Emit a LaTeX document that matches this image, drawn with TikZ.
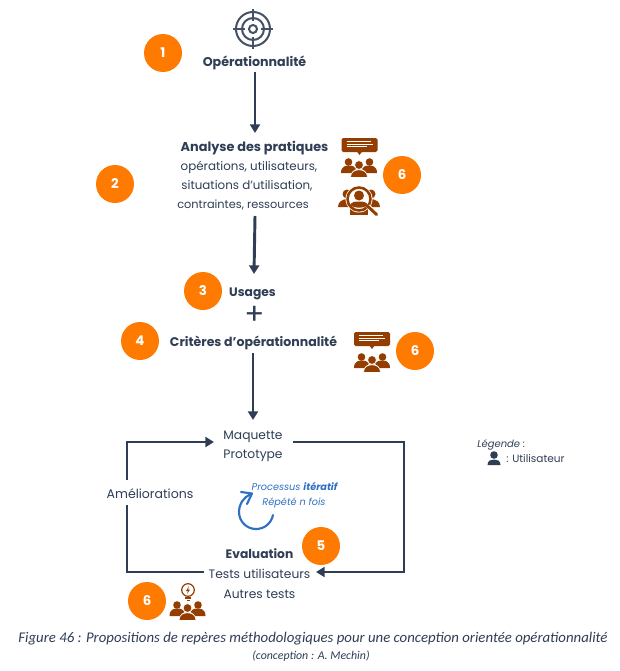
\documentclass[tikz,border=0pt]{standalone}
\usepackage{fontspec}
\setmainfont{Poppins}
\newfontfamily\capfont{Carlito}
\usetikzlibrary{arrows.meta}
\definecolor{ink}{HTML}{2F3E55}
\definecolor{orangeb}{HTML}{FF7A00}
\definecolor{brownb}{HTML}{943D00}
\definecolor{blueb}{HTML}{2F6FC4}
\tikzset{
 x=0.75pt,y=-0.75pt,
 badge/.style={circle,fill=orangeb,minimum size=28.5pt,inner sep=0pt,text=white,font=\fontsize{10}{12}\selectfont\bfseries},
 txt/.style={text=ink,inner sep=0pt,anchor=base,font=\fontsize{9.2}{14}\selectfont},
 stxt/.style={text=ink,inner sep=0pt,anchor=base,font=\fontsize{8.9}{14}\selectfont},
 btxt/.style={text=ink,inner sep=0pt,anchor=base,font=\fontsize{9.2}{14}\selectfont\bfseries},
 itxt/.style={text=blueb,inner sep=0pt,anchor=base,font=\fontsize{7.3}{11}\selectfont\itshape},
 legtxt/.style={inner sep=0pt,anchor=base west,text=ink},
 captxt/.style={inner sep=0pt,anchor=base,text=ink},
 flow/.style={draw=ink,line width=2.2pt,-{Triangle[length=6.5pt,width=7.5pt]}},
 plainline/.style={draw=ink,line width=2.2pt},
 people/.pic={
  \fill[pic actions] (-10.5,-4) circle (3.8);
  \fill[pic actions] (10.5,-4) circle (3.8);
  \fill[pic actions] (-18,7) .. controls (-18,0) and (-13,-0.5) .. (-10,-0.5) .. controls (-6,-0.5) and (-4,1) .. (-3,3) .. controls (-6,4) and (-7,6) .. (-7,7) -- cycle;
  \fill[pic actions] (18,7) .. controls (18,0) and (13,-0.5) .. (10,-0.5) .. controls (6,-0.5) and (4,1) .. (3,3) .. controls (6,4) and (7,6) .. (7,7) -- cycle;
  \fill[pic actions,draw=white,line width=0.5pt] (0,-1) circle (4.4);
  \fill[pic actions,draw=white,line width=0.5pt] (-8.5,11.5) .. controls (-8.5,5.5) and (-4,3.8) .. (0,3.8) .. controls (4,3.8) and (8.5,5.5) .. (8.5,11.5) -- cycle;
 },
 bubble/.pic={
  \fill[pic actions,rounded corners=1.2] (-18,-8) rectangle (18,6);
  \fill[pic actions] (-3,5) -- (3,5) -- (0,9) -- cycle;
  \draw[white,line width=0.5pt] (-13,-4.5) -- (11,-4.5) (-13,-2) -- (13,-2) (-13,0.5) -- (7,0.5);
 },
}
\begin{document}
\begin{tikzpicture}
\useasboundingbox[fill=white] (0,0) rectangle (620,671);
% target icon
\begin{scope}[draw=ink!90!white,line width=1.5pt]
 \draw (253,29) circle (17);
 \draw (253,29) circle (11);
 \draw (253,29) circle (4);
 \draw (253,9) -- (253,21) (253,37) -- (253,49) (233,29) -- (245,29) (261,29) -- (273,29);
\end{scope}
% texts
\node[btxt,font=\fontsize{9.5}{14}\selectfont\bfseries] (op) at (254.5,66) {Opérationnalité};
\node[btxt,font=\fontsize{9.65}{14}\selectfont\bfseries] (an) at (254.5,151) {Analyse des pratiques};
\node[stxt] (an2) at (249,170) {opérations, utilisateurs,};
\node[stxt] (an3) at (247,189) {situations d’utilisation,};
\node[stxt,font=\fontsize{8.5}{14}\selectfont] (an4) at (243,208) {contraintes, ressources};
\node[btxt] (us) at (252.5,296) {Usages};
\node[text=ink,inner sep=0pt,font=\fontsize{22}{22}\selectfont] (plus) at (254.5,315) {+};
\node[btxt,font=\fontsize{9.4}{14}\selectfont\bfseries] (cr) at (253.5,346) {Critères d’opérationnalité};
\node[txt] (ma) at (253,439) {Maquette};
\node[txt] (pr) at (253,458) {Prototype};
\node[txt,font=\fontsize{9.4}{14}\selectfont] (am) at (150,498.5) {Améliorations};
\node[btxt] (ev) at (259.5,558) {Evaluation};
\node[txt] (te) at (259.5,578) {Tests utilisateurs};
\node[txt] (au) at (259.5,598) {Autres tests};
\node[itxt] (it) at (294.5,490) {Processus \textbf{itératif}};
\node[itxt] (it2) at (294,505) {Répété n fois};
% badges
\node[badge] (b1) at (163,53) {1};
\node[badge] (b2) at (115,184) {2};
\node[badge] (b6a) at (402,175) {6};
\node[badge] (b3) at (203,291) {3};
\node[badge] (b4) at (140,341) {4};
\node[badge] (b6b) at (415,351) {6};
\node[badge] (b5) at (321,546) {5};
\node[badge] (b6c) at (147,601) {6};
% icons
\path[fill=brownb] (359.5,146) pic {bubble};
\path[fill=brownb] (359,166) pic {people};
\path[fill=brownb] (372,340) pic {bubble};
\path[fill=brownb] (372,361) pic {people};
\path[fill=brownb] (187.5,609) pic {people};
% magnifier people
\fill[brownb] (347,194) circle (4.5);
\fill[brownb] (371,194) circle (4.5);
\fill[brownb] (338,207) .. controls (338,202) and (342,199) .. (348,199) -- (350,207) -- cycle;
\fill[brownb] (380,207) .. controls (380,202) and (376,199) .. (370,199) -- (368,207) -- cycle;
\fill[brownb] (350,208) rectangle (368,214.5);
\fill[white] (359,199) circle (13.5);
\draw[brownb,line width=1.9pt] (359,199) circle (11.5);
\fill[brownb] (359,195.5) circle (5);
\fill[brownb] (350.5,205) .. controls (351,202) and (355,201.5) .. (359,201.5) .. controls (363,201.5) and (367,202) .. (367.5,205) .. controls (365,208.5) and (353,208.5) .. (350.5,205) -- cycle;
\draw[white,line width=3.4pt] (368,206) -- (376,214);
\draw[brownb,line width=2.2pt,line cap=round] (368,206.5) -- (376.5,214.5);
% bulb
\draw[brownb,line width=0.9pt] (188,590) circle (6.3);
\fill[brownb] (189,586) -- (186,591) -- (188,591) -- (187,594) -- (190,589.5) -- (188,589.5) -- cycle;
\fill[brownb] (185,597) rectangle (191,599.3);
\fill[brownb] (186.5,600) rectangle (189.5,601.2);
% connectors
\coordinate (a1) at (255,72);
\coordinate (a2) at (255,133);
\coordinate (a3) at (255,216);
\coordinate (a4) at (254,274);
\coordinate (a5) at (253,353);
\coordinate (a6) at (253,420);
\draw[flow] (a1) -- (a2);
\draw[flow] (a3) -- (a4);
\draw[flow] (a5) -- (a6);
\coordinate (l1) at (204,572);
\coordinate (l2) at (127,572);
\coordinate (g1) at (127,505);
\coordinate (g2) at (127,480);
\coordinate (l3) at (127,442);
\coordinate (l4) at (214,442);
\coordinate (r1) at (293,442);
\coordinate (r2) at (404,442);
\coordinate (r3) at (404,572);
\coordinate (r4) at (316,572);
\draw[plainline] (l1) -- (l2) -- (g1);
\draw[flow] (g2) -- (l3) -- (l4);
\draw[flow] (r1) -- (r2) -- (r3) -- (r4);
% loop arrow
\draw[blueb,line width=1.6pt,line cap=round] (273,515) .. controls (271,524) and (264,529) .. (256,529) .. controls (246.6,529) and (239,521.4) .. (239,512) .. controls (239,504) and (244,497) .. (250,494.5);
\draw[blueb,line width=1.6pt,line cap=round,line join=round] (241,492) -- (252,493.5) -- (247,504);
% legend
\node[legtxt,font=\fontsize{7.5}{9}\selectfont\itshape] (lg) at (477,447) {Légende :};
\fill[ink] (494,455) circle (3.8);
\fill[ink] (487.5,465) .. controls (487.5,460.5) and (491,459.5) .. (494,459.5) .. controls (497,459.5) and (500.5,460.5) .. (500.5,465) -- cycle;
\node[legtxt,font=\fontsize{7.9}{9}\selectfont] (lu) at (506,462.5) {: Utilisateur};
% caption
\node[captxt,font=\capfont\fontsize{11.1}{13}\selectfont\itshape] (cap1) at (313,642) {Figure 46 : Propositions de repères méthodologiques pour une conception orientée opérationnalité};
\node[captxt,font=\capfont\fontsize{8.9}{11}\selectfont\itshape] (cap2) at (311,659) {(conception : A. Mechin)};
\end{tikzpicture}
\end{document}
